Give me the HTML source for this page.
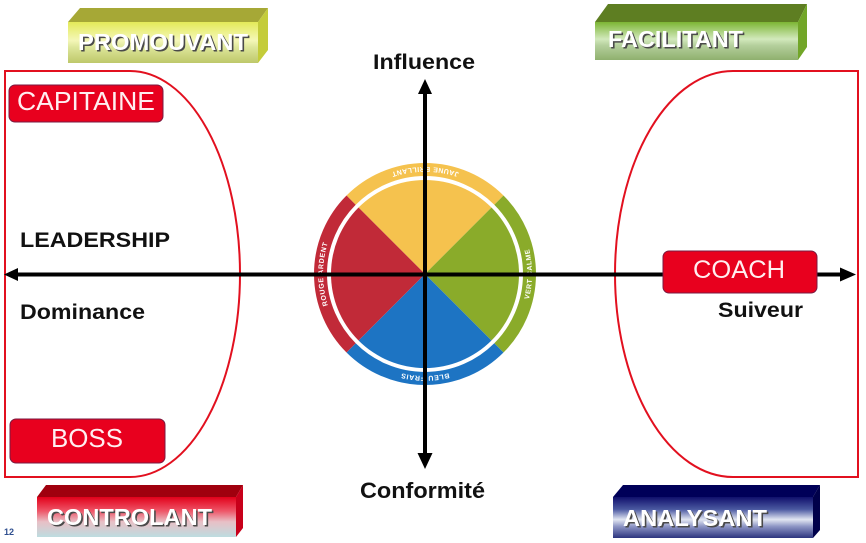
<!DOCTYPE html>
<html>
<head>
<meta charset="utf-8">
<style>
html,body{margin:0;padding:0;background:#fff;}
svg{display:block;}
text{font-family:"Liberation Sans",Arial,sans-serif;}
</style>
</head>
<body>
<svg width="866" height="543" viewBox="0 0 866 543" xmlns="http://www.w3.org/2000/svg">
<defs>
  <linearGradient id="gPro" x1="0" y1="0" x2="0" y2="1">
    <stop offset="0" stop-color="#e4ea58"/>
    <stop offset="0.45" stop-color="#f4f7b8"/>
    <stop offset="0.62" stop-color="#dde69a"/>
    <stop offset="1" stop-color="#bec86a"/>
  </linearGradient>
  <linearGradient id="gFac" x1="0" y1="0" x2="0" y2="1">
    <stop offset="0" stop-color="#7cb634"/>
    <stop offset="0.45" stop-color="#d2e9bc"/>
    <stop offset="0.62" stop-color="#b4cf9c"/>
    <stop offset="1" stop-color="#8fb06e"/>
  </linearGradient>
  <linearGradient id="gCon" x1="0" y1="0" x2="0" y2="1">
    <stop offset="0" stop-color="#e2001a"/>
    <stop offset="0.35" stop-color="#ee5668"/>
    <stop offset="0.62" stop-color="#e8c0c6"/>
    <stop offset="1" stop-color="#bddde0"/>
  </linearGradient>
  <linearGradient id="gAna" x1="0" y1="0" x2="0" y2="1">
    <stop offset="0" stop-color="#10106c"/>
    <stop offset="0.3" stop-color="#4a58a0"/>
    <stop offset="0.55" stop-color="#e2e6f2"/>
    <stop offset="0.72" stop-color="#8c94c4"/>
    <stop offset="1" stop-color="#2c347e"/>
  </linearGradient>
  <path id="pTop" d="M500.66,198.34 A107,107 0 0 0 349.34,198.34"/>
  <path id="pRight" d="M500.66,349.66 A107,107 0 0 0 500.66,198.34"/>
  <path id="pBot" d="M497.12,346.12 A102,102 0 0 1 352.88,346.12"/>
  <path id="pLeft" d="M352.88,346.12 A102,102 0 0 1 352.88,201.88"/>
</defs>

<!-- red curved groups -->
<path d="M5,71 L130,71 A110,203 0 0 1 130,477 L5,477 Z" fill="none" stroke="#e2101f" stroke-width="2"/>
<path d="M858,71 L733,71 A118,203 0 0 0 733,477 L858,477 Z" fill="none" stroke="#e2101f" stroke-width="2"/>

<!-- wheel: inner pie -->
<path d="M425,274 L358.53,207.53 A94,94 0 0 1 491.47,207.53 Z" fill="#f5c24e"/>
<path d="M425,274 L491.47,207.53 A94,94 0 0 1 491.47,340.47 Z" fill="#8aab2a"/>
<path d="M425,274 L491.47,340.47 A94,94 0 0 1 358.53,340.47 Z" fill="#1d74c3"/>
<path d="M425,274 L358.53,340.47 A94,94 0 0 1 358.53,207.53 Z" fill="#c12a38"/>
<!-- wheel: outer ring -->
<g fill="none" stroke-width="13">
  <path d="M351.11,200.11 A104.5,104.5 0 0 1 498.89,200.11" stroke="#f5c24e"/>
  <path d="M498.89,200.11 A104.5,104.5 0 0 1 498.89,347.89" stroke="#8aab2a"/>
  <path d="M498.89,347.89 A104.5,104.5 0 0 1 351.11,347.89" stroke="#1d74c3"/>
  <path d="M351.11,347.89 A104.5,104.5 0 0 1 351.11,200.11" stroke="#c12a38"/>
</g>
<g font-size="7" font-weight="bold" fill="#fff" letter-spacing="0.6">
  <text><textPath href="#pTop" startOffset="50%" text-anchor="middle">JAUNE BRILLANT</textPath></text>
  <text><textPath href="#pRight" startOffset="50%" text-anchor="middle">VERT CALME</textPath></text>
  <text><textPath href="#pBot" startOffset="50%" text-anchor="middle">BLEU FRAIS</textPath></text>
  <text><textPath href="#pLeft" startOffset="50%" text-anchor="middle">ROUGE ARDENT</textPath></text>
</g>

<!-- axes -->
<line x1="16" y1="274.5" x2="842" y2="274.5" stroke="#000" stroke-width="4"/>
<polygon points="4,274.5 18,268 18,281" fill="#000"/>
<polygon points="856,274.5 840,267.5 840,281.5" fill="#000"/>
<line x1="425" y1="90" x2="425" y2="458" stroke="#000" stroke-width="4"/>
<polygon points="425,79 418,94 432,94" fill="#000"/>
<polygon points="425,469 417.5,453 432.5,453" fill="#000"/>

<!-- axis labels -->
<g font-weight="bold" fill="#111">
  <text x="373" y="69" font-size="21" textLength="102" lengthAdjust="spacingAndGlyphs">Influence</text>
  <text x="360" y="498" font-size="22" textLength="125" lengthAdjust="spacingAndGlyphs">Conformité</text>
  <text x="20" y="247" font-size="21" textLength="150" lengthAdjust="spacingAndGlyphs">LEADERSHIP</text>
  <text x="20" y="319" font-size="21" textLength="125" lengthAdjust="spacingAndGlyphs">Dominance</text>
  <text x="718" y="317" font-size="21" textLength="85" lengthAdjust="spacingAndGlyphs">Suiveur</text>
</g>

<!-- red role boxes -->
<g stroke="#7a1a40" stroke-width="1" fill="#e8001e">
  <rect x="9" y="85" width="154" height="37" rx="6"/>
  <rect x="10" y="419" width="155" height="44" rx="6"/>
  <rect x="663" y="251" width="154" height="42" rx="6"/>
</g>
<g fill="#ffeef0" font-size="26">
  <text x="17" y="110" textLength="138" lengthAdjust="spacingAndGlyphs">CAPITAINE</text>
  <text x="51" y="447" textLength="72" lengthAdjust="spacingAndGlyphs">BOSS</text>
  <text x="693" y="278" font-size="25" textLength="92" lengthAdjust="spacingAndGlyphs">COACH</text>
</g>

<!-- 3D boxes -->
<!-- PROMOUVANT -->
<polygon points="68,22 80,8 268,8 258,22" fill="#a6a836"/>
<polygon points="258,22 268,8 268,50 258,63" fill="#c4cc3a"/>
<rect x="68" y="22" width="190" height="41" fill="url(#gPro)"/>
<!-- FACILITANT -->
<polygon points="595,22 608,4 807,4 798,22" fill="#5e7e22"/>
<polygon points="798,22 807,4 807,47 798,60" fill="#72a628"/>
<rect x="595" y="22" width="203" height="38" fill="url(#gFac)"/>
<!-- CONTROLANT -->
<polygon points="37,497 46,485 243,485 236,497" fill="#a0000e"/>
<polygon points="236,497 243,485 243,528 236,537" fill="#c8001a"/>
<rect x="37" y="497" width="199" height="40" fill="url(#gCon)"/>
<!-- ANALYSANT -->
<polygon points="613,497 623,485 820,485 813,497" fill="#000058"/>
<polygon points="813,497 820,485 820,530 813,538" fill="#00004a"/>
<rect x="613" y="497" width="200" height="41" fill="url(#gAna)"/>

<g font-size="23" font-weight="bold">
  <g fill="#4a4a4a" transform="translate(1.6,1.6)">
    <text x="78" y="50" textLength="170" lengthAdjust="spacingAndGlyphs">PROMOUVANT</text>
    <text x="608" y="47" textLength="135" lengthAdjust="spacingAndGlyphs">FACILITANT</text>
    <text x="47" y="525" textLength="165" lengthAdjust="spacingAndGlyphs">CONTROLANT</text>
    <text x="623" y="526" textLength="144" lengthAdjust="spacingAndGlyphs">ANALYSANT</text>
  </g>
  <g fill="#ffffff">
    <text x="78" y="50" textLength="170" lengthAdjust="spacingAndGlyphs">PROMOUVANT</text>
    <text x="608" y="47" textLength="135" lengthAdjust="spacingAndGlyphs">FACILITANT</text>
    <text x="47" y="525" textLength="165" lengthAdjust="spacingAndGlyphs">CONTROLANT</text>
    <text x="623" y="526" textLength="144" lengthAdjust="spacingAndGlyphs">ANALYSANT</text>
  </g>
</g>

<!-- page number -->
<text x="4" y="535" font-size="9" font-weight="bold" fill="#2f4f8f">12</text>
</svg>
</body>
</html>
